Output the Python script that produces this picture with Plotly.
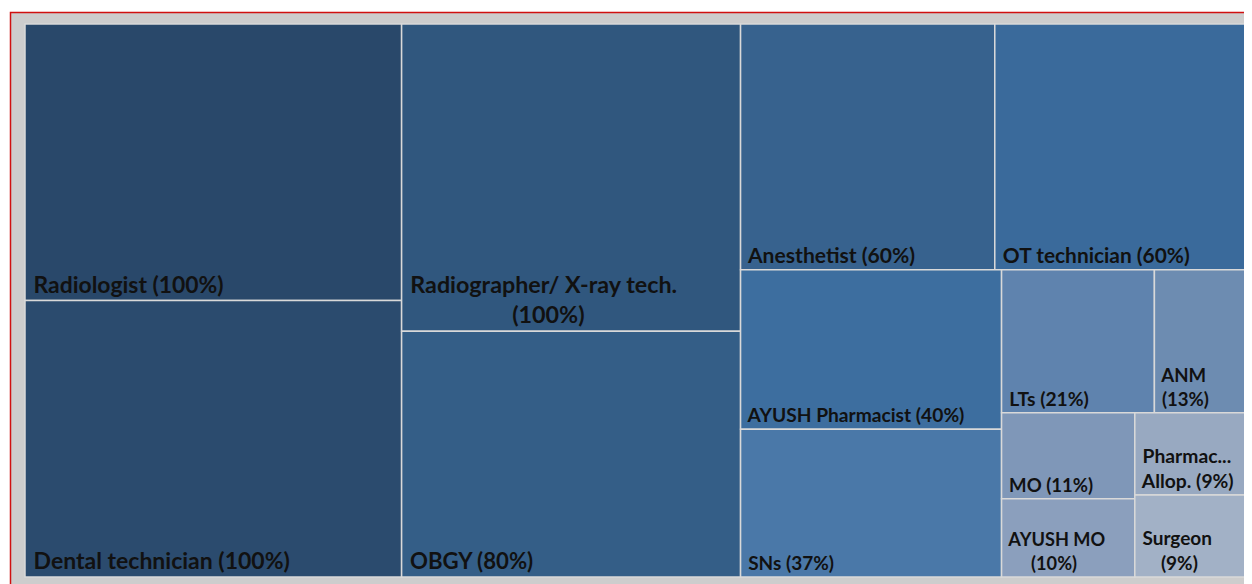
import plotly.graph_objects as go

categories = ["Radiologist", "Dental technician", "Radiographer/ X-ray tech.", "OBGY",
              "Anesthetist", "OT technician", "AYUSH Pharmacist", "SNs", "LTs", "ANM",
              "MO", "AYUSH MO", "Pharmac...", "Surgeon"]
values = [100, 100, 100, 80, 60, 60, 40, 37, 21, 13, 11, 10, 9, 9]

# styling (kept separate from the data)
colors = ["#29486A", "#2B4B6E", "#30577E", "#345E87", "#37628E", "#3A6A9B", "#3D6E9F",
          "#4A78A8", "#5F83AE", "#6D8CB1", "#7F97B8", "#8B9FBD", "#98A9C1", "#A2B1C6"]
font_sizes = [22.9, 23, 23.3, 22.2, 21.1, 20.9, 19.2, 19, 19.3, 18.6, 18.6, 18.2, 19.3, 19]

NB = "&nbsp;"


def make_text(name, v):
    pct = f"({v}%)"
    if name.startswith("Radiographer"):
        body = f"{NB}{name}<br>{NB*19}{pct}"
    elif name == "ANM":
        body = f"{NB}{name}<br>{NB}{pct}"
    elif name == "AYUSH MO":
        body = f"{NB}{name}<br>{NB*6}{pct}"
    elif name == "Surgeon":
        body = f"{NB}{name}<br>{NB*5}{pct}"
    elif name.startswith("Pharmac"):
        body = f"{NB}{name}<br>{NB}Allop. {pct}"
    else:
        body = f"{NB}{name} {pct}"
    return f"<b>{body}</b>"


texts = [make_text(c, v) for c, v in zip(categories, values)]

W, H = 1252, 584
OFF = 8  # page body margin
fig = go.Figure(go.Treemap(
    labels=categories,
    parents=[""] * len(categories),
    values=values,
    text=texts,
    textinfo="text",
    textposition="bottom left",
    textfont=dict(family="Lato", size=font_sizes, color="#111111"),
    marker=dict(colors=colors, line=dict(color="#D9D9D9", width=1.5),
                pad=dict(t=0, l=0, r=0, b=0)),
    tiling=dict(packing="squarify", pad=0),
    sort=True,
    hoverinfo="label+value",
    pathbar=dict(visible=False),
    domain=dict(x=[(25 - OFF) / W, (1249 - OFF) / W], y=[1 - (577 - OFF) / H, 1 - (24 - OFF) / H]),
))

fig.update_layout(
    width=W, height=H,
    margin=dict(l=0, r=0, t=0, b=0),
    paper_bgcolor="white",
    shapes=[dict(type="rect", xref="paper", yref="paper",
                 x0=(10.5 - OFF) / W, x1=1.02, y0=-0.02, y1=1 - (12.5 - OFF) / H,
                 line=dict(color="#D01010", width=1.5), fillcolor="#CDCDCD", layer="below")],
)

fig.write_html("out.html")
